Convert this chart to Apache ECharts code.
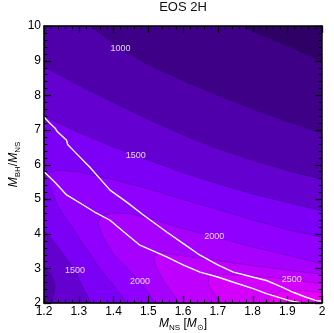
<!DOCTYPE html>
<html><head><meta charset="utf-8">
<script src="https://cdn.jsdelivr.net/npm/echarts@6/dist/echarts.min.js"></script>
<style>html,body{margin:0;padding:0;background:#fff}#c{width:334px;height:333px}</style>
</head><body><div id="c"></div>
<script>
// ---- data ----
const xRange = [1.2, 2.0];
const yRange = [2, 10];
const xMajorTicks = [1.2, 1.3, 1.4, 1.5, 1.6, 1.7, 1.8, 1.9, 2.0];
const yMajorTicks = [2, 3, 4, 5, 6, 7, 8, 9, 10];
const minorPerMajor = 5;
const levels = [750, 1000, 1250, 1500, 1750, 2000, 2250, 2500, 2750];
const bandColors = ['#2f0066', '#3e0086', '#4f00aa', '#6400d0', '#7c00f6', '#9000ff', '#a600ff', '#bd00ff', '#d300ff', '#e800f8'];

// contour lines, [M_NS, M_BH/M_NS]
const c750 = [[1.77,10],[1.83,9.72],[1.9,9.43],[2,8.98]];
const c1000 = [[1.332,10],[1.42,9.35],[1.5,8.88],[1.6,8.42],[1.7,8.0],[1.8,7.6],[1.9,7.24],[2,6.9]];
const c1250 = [[1.2,8.82],[1.3,8.28],[1.4,7.78],[1.5,7.3],[1.6,6.85],[1.7,6.45],[1.8,6.12],[1.9,5.82],[2,5.57]];
const c1250lobe = [[1.2,3.05],[1.222,2.8],[1.232,2.5],[1.228,2.2],[1.222,2.0]];
const c1500 = [[1.2,7.39],[1.3,6.92],[1.4,6.5],[1.464,6.26],[1.6,5.76],[1.7,5.44],[1.8,5.15],[1.9,4.9],[2,4.66]];
const c1500lower = [[1.2,4.1],[1.23,3.75],[1.26,3.35],[1.289,2.94],[1.31,2.5],[1.335,2.0]];
const c1750 = [[2,3.9],[1.9,4.12],[1.8,4.4],[1.7,4.7],[1.59,5.02],[1.5,5.3],[1.4,5.56],[1.3,5.78],[1.24,5.84],[1.215,5.75],[1.215,5.4],[1.24,4.8],[1.28,4.2],[1.32,3.6],[1.36,3.0],[1.4,2.5],[1.44,2.0]];
const c2000 = [[2,3.13],[1.9,3.38],[1.8,3.62],[1.69,3.91],[1.6,4.15],[1.5,4.45],[1.447,4.58],[1.4,4.6],[1.365,4.52],[1.355,4.3],[1.37,3.9],[1.4,3.4],[1.44,3.0],[1.476,2.62],[1.5,2.3],[1.52,2.0]];
const c2250 = [[2,2.82],[1.9,2.95],[1.8,3.08],[1.7,3.22],[1.6,3.36],[1.54,3.45],[1.515,3.38],[1.52,3.1],[1.54,2.7],[1.565,2.35],[1.59,2.0]];
const c2500 = [[2,2.55],[1.913,2.68],[1.8,2.78],[1.71,2.82],[1.672,2.75],[1.675,2.5],[1.69,2.25],[1.71,2.0]];
const c2750 = [[2,2.3],[1.94,2.36],[1.88,2.33],[1.85,2.2],[1.84,2.0]];

// white boundary curves
const whiteUpper = [[1.2,7.37],[1.217,7.19],[1.232,7.05],[1.238,6.95],[1.265,6.7],[1.268,6.58],[1.29,6.35],[1.332,5.92],[1.39,5.26],[1.44,4.9],[1.486,4.54],[1.553,4.05],[1.6,3.72],[1.649,3.38],[1.7,3.1],[1.745,2.89],[1.8,2.75],[1.84,2.65],[1.88,2.48],[1.917,2.31],[1.95,2.18],[1.984,2.07],[2.0,2.05]];
const whiteLower = [[1.2,5.79],[1.23,5.5],[1.265,5.12],[1.313,4.83],[1.35,4.6],[1.39,4.39],[1.43,4.05],[1.476,3.67],[1.553,3.33],[1.6,3.1],[1.649,2.89],[1.7,2.75],[1.745,2.6],[1.8,2.42],[1.84,2.27],[1.88,2.15],[1.907,2.07],[1.94,2.0]];

// contour labels [x, y, value]
const contourLabels = [[1.42,9.35,1000],[1.464,6.26,1500],[1.69,3.91,2000],[1.289,2.94,1500],[1.476,2.62,2000],[1.913,2.68,2500]];

const titleText = 'EOS 2H';

// ---- build regions f > level ----
const X0 = xRange[0], X1 = xRange[1], Y0 = yRange[0], Y1 = yRange[1];
const rev = a => a.slice().reverse();
const regions = [
  [[X0,Y0],[X1,Y0],[X1,Y1],[X0,Y1]],
  c750.concat([[X1,Y0],[X0,Y0],[X0,Y1]]),
  c1000.concat([[X1,Y0],[X0,Y0],[X0,Y1]]),
  c1250.concat([[X1,Y0]], rev(c1250lobe)),
  c1500.concat([[X1,Y0]], rev(c1500lower)),
  c1750.concat([[X1,Y0]]),
  c2000.concat([[X1,Y0]]),
  c2250.concat([[X1,Y0]]),
  c2500.concat([[X1,Y0]]),
  c2750.concat([[X1,Y0]])
];

// tick positions (major from the arrays, minor between them)
function withMinor(arr) {
  const minor = [];
  for (let i = 0; i < arr.length - 1; i++)
    for (let k = 1; k < minorPerMajor; k++)
      minor.push(+(arr[i] + (arr[i + 1] - arr[i]) * k / minorPerMajor).toFixed(4));
  return { major: arr.slice(), minor: minor };
}
const xT = withMinor(xMajorTicks), yT = withMinor(yMajorTicks);
const MJ = 7, MN = 3.5;

function tickLines(api) {
  const out = [];
  const add = (vals, len, w) => {
    vals.x.forEach(v => {
      const b = api.coord([v, Y0]), t = api.coord([v, Y1]);
      const x = Math.round(b[0]) + 0.5;
      out.push({ type: 'line', shape: { x1: x, y1: b[1], x2: x, y2: b[1] - len }, style: { stroke: '#000', lineWidth: w } });
      out.push({ type: 'line', shape: { x1: x, y1: t[1], x2: x, y2: t[1] + len }, style: { stroke: '#000', lineWidth: w } });
    });
    vals.y.forEach(v => {
      const l = api.coord([X0, v]), r = api.coord([X1, v]);
      const y = Math.round(l[1]) + 0.5;
      out.push({ type: 'line', shape: { x1: l[0], y1: y, x2: l[0] + len, y2: y }, style: { stroke: '#000', lineWidth: w } });
      out.push({ type: 'line', shape: { x1: r[0], y1: y, x2: r[0] - len, y2: y }, style: { stroke: '#000', lineWidth: w } });
    });
  };
  add({ x: xT.major, y: yT.major }, MJ, 1.3);
  add({ x: xT.minor, y: yT.minor }, MN, 1.1);
  return out;
}

function polySeries(points, color, idx, withTicks) {
  return {
    type: 'custom', coordinateSystem: 'cartesian2d', clip: false, z: 1,
    data: [[1.6, 6]],
    renderItem: function (params, api) {
      const pts = points.map(p => api.coord(p));
      const poly = { type: 'polygon', shape: { points: pts },
        style: { fill: color, stroke: idx === 0 ? null : 'rgba(20,0,40,0.35)', lineWidth: 0.6 } };
      if (!withTicks) return poly;
      return { type: 'group', children: [poly].concat(tickLines(api)) };
    }
  };
}

const FONT = "'Liberation Sans', Arial, Helvetica, sans-serif";
const chart = echarts.init(document.getElementById('c'), null, { renderer: 'canvas' });

function axisCommon(show) {
  return {
    type: 'value', z: 10,
    axisLine: { show: true, onZero: false, lineStyle: { color: '#000', width: 1.5 } },
    axisTick: { show: false },
    minorTick: { show: false },
    splitLine: { show: false },
    axisLabel: { show: show, color: '#000', fontSize: 12, fontFamily: FONT, margin: 3 },
  };
}

const series = regions.map((r, i) => polySeries(r, bandColors[i], i, i === regions.length - 1));
series.push({
  type: 'custom', coordinateSystem: 'cartesian2d', clip: false, z: 6,
  data: contourLabels,
  renderItem: function (params, api) {
    const p = api.coord([api.value(0), api.value(1)]);
    return { type: 'text', x: p[0], y: p[1],
      style: { text: String(api.value(2)), fill: 'rgba(235,225,255,0.95)', fontSize: 9,
        fontFamily: FONT, align: 'center', verticalAlign: 'middle' } };
  }
});
series.push({
  type: 'line', data: whiteUpper, showSymbol: false, z: 5,
  lineStyle: { color: '#fff', width: 1.4 }
});
series.push({
  type: 'line', data: whiteLower, showSymbol: false, z: 5,
  lineStyle: { color: '#fff', width: 1.4 }
});

const sub = { fontSize: 8, fontFamily: FONT, color: '#000', padding: [7, 0, 0, 0], lineHeight: 9 };
const it = { fontSize: 12, fontStyle: 'italic', fontFamily: FONT, color: '#000', lineHeight: 16 };
const nrm = { fontSize: 12, fontFamily: FONT, color: '#000', lineHeight: 16 };

chart.setOption({
  animation: false,
  graphic: [{
    type: 'text', x: 183, y: 1,
    style: { text: titleText, textAlign: 'center', textVerticalAlign: 'top', fill: '#111',
      fontSize: 13, fontFamily: FONT }
  }],
  grid: { left: 44, right: 12, top: 26, bottom: 30, containLabel: false, outerBoundsMode: 'none' },
  xAxis: [
    Object.assign(axisCommon(true), { position: 'bottom', min: X0, max: X1, interval: 0.1,
      name: '{i|M}{s|NS} {n|[}{i|M}{s|⊙}{n|]}', nameLocation: 'middle', nameGap: 13,
      nameMoveOverlap: false,
      nameTextStyle: { rich: { i: it, s: sub, n: nrm } } }),
    Object.assign(axisCommon(false), { position: 'top', min: X0, max: X1, interval: 0.1 })
  ],
  yAxis: [
    Object.assign(axisCommon(true), { position: 'left', min: Y0, max: Y1, interval: 1,
      name: '{i|M}{s|BH}{n|/}{i|M}{s|NS}', nameLocation: 'middle', nameGap: 22,
      nameMoveOverlap: false,
      nameTextStyle: { rich: { i: it, s: sub, n: nrm } } }),
    Object.assign(axisCommon(false), { position: 'right', min: Y0, max: Y1, interval: 1 })
  ],
  series: series
});
</script>
</body></html>
